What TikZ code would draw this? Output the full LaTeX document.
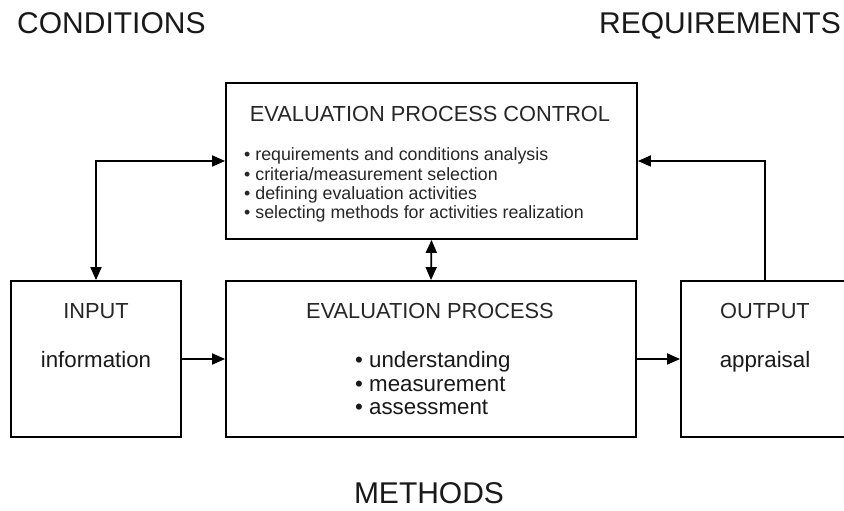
\documentclass[tikz,border=0pt]{standalone}
\usepackage{fontspec}
\setmainfont{Liberation Sans}
\usetikzlibrary{arrows.meta}
\begin{document}
\begin{tikzpicture}[x=1pt,y=1pt,
  box/.style={draw=black, line width=1.8pt, fill=white, inner sep=0pt},
  big/.style={font=\fontsize{30}{36}\selectfont, text=black!90, inner sep=0pt},
  mid/.style={font=\fontsize{21.8}{26}\selectfont, text=black!85, inner sep=0pt},
  midb/.style={font=\fontsize{22.3}{26}\selectfont, text=black!90, inner sep=0pt},
  small/.style={font=\fontsize{17.8}{20}\selectfont, text=black!85, inner sep=0pt},
  arr/.style={line width=1.8pt, -{Triangle[length=13pt,width=11pt]}},
  darr/.style={line width=1.8pt, {Triangle[length=13pt,width=11pt]}-{Triangle[length=13pt,width=11pt]}}]
\useasboundingbox (0,0) rectangle (844,511);
\clip (0,0) rectangle (844,511);
\fill[white] (0,0) rectangle (844,511);

% boxes
\node[box, minimum width=411, minimum height=156] (ctrl) at (431.5,350) {};
\node[box, minimum width=410, minimum height=156] (proc) at (431,152) {};
\node[box, minimum width=170, minimum height=156] (input) at (96,152) {};
\node[box, minimum width=168, minimum height=156] (output) at (765,152) {};

% corner labels
\node[big, anchor=base west] (cond) at (17,477) {CONDITIONS};
\node[big, anchor=base east] (req) at (841,477) {REQUIREMENTS};
\node[big, anchor=base] (meth) at (429,7) {METHODS};

% control box text
\node[mid, anchor=base] (ctitle) at (430,389) {EVALUATION PROCESS CONTROL};
\node[small, anchor=base west] (c1) at (244,350) {• requirements and conditions analysis};
\node[small, anchor=base west] (c2) at (244,330.7) {• criteria/measurement selection};
\node[small, anchor=base west] (c3) at (244,311.4) {• defining evaluation activities};
\node[small, anchor=base west] (c4) at (244,292.1) {• selecting methods for activities realization};

% process box text
\node[mid, anchor=base] (ptitle) at (430,192) {EVALUATION PROCESS};
\node[midb, anchor=base west] (p1) at (355,143) {• understanding};
\node[midb, anchor=base west] (p2) at (355,119.5) {• measurement};
\node[midb, anchor=base west] (p3) at (355,96) {• assessment};

% input / output text
\node[mid, anchor=base] (itit) at (96,192) {INPUT};
\node[midb, anchor=base] (itxt) at (96,143) {information};
\node[mid, anchor=base] (otit) at (765,192) {OUTPUT};
\node[midb, anchor=base] (otxt) at (765,143) {appraisal};

% connectors
\draw[darr] (input.north) |- (ctrl.west);
\draw[arr] (output.north) |- (ctrl.east);
\draw[darr] (ctrl.south) -- (proc.north);
\draw[arr] (input.east) -- (proc.west);
\draw[arr] (proc.east) -- (output.west);
\end{tikzpicture}
\end{document}
